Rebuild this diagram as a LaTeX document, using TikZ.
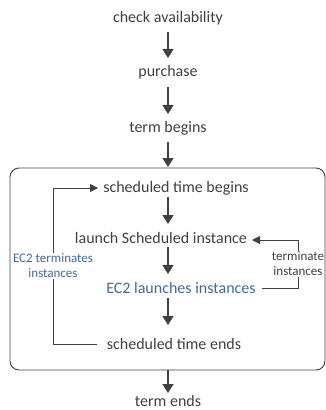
\documentclass[tikz,border=0pt]{standalone}
\usepackage{fontspec}
\setmainfont{Carlito}
\usetikzlibrary{arrows.meta}
\definecolor{txt}{HTML}{404040}
\definecolor{bluetxt}{HTML}{46689A}
\tikzset{
  lbl/.style={font=\fontsize{16}{18}\selectfont, text=txt, inner sep=1pt},
  bluelbl/.style={font=\fontsize{16}{18}\selectfont, text=bluetxt, inner sep=1pt},
  small/.style={font=\fontsize{13}{15}\selectfont, align=center, inner sep=1pt},
  mainarrow/.style={draw=txt, line width=1.3pt, -{Triangle[width=11pt,length=9pt]}},
  looparrow/.style={draw=txt, line width=0.9pt, -{Triangle[width=8pt,length=8pt]}},
  loopline/.style={draw=txt, line width=0.9pt},
}
\begin{document}
\begin{tikzpicture}[x=1pt,y=-1pt]
\useasboundingbox (0,0) rectangle (326,410);
\draw[draw=txt, line width=0.9pt, rounded corners=9pt] (10,168) rectangle (325,370);
\node[lbl] (ca) at (168,18) {check availability};
\node[lbl] (pu) at (168,72) {purchase};
\node[lbl] (tb) at (168,128) {term begins};
\node[lbl] (stb) at (176,188) {scheduled time begins};
\node[lbl] (lsi) at (161,238) {launch Scheduled instance};
\node[bluelbl] (eli) at (181,288) {EC2 launches instances};
\node[lbl] (ste) at (174,344) {scheduled time ends};
\node[lbl] (te) at (168,401) {term ends};
\node[small, text=bluetxt] (eti) at (53,266) {EC2 terminates\\instances};
\node[small, text=txt] (ti) at (298,264) {terminate\\instances};

\draw[mainarrow] (168,32) -- (168,58);
\draw[mainarrow] (168,87) -- (168,114);
\draw[mainarrow] (168,142) -- (168,167);
\draw[mainarrow] (168,197) -- (168,224);
\draw[mainarrow] (168,247) -- (168,274);
\draw[mainarrow] (168,298) -- (168,325);
\draw[mainarrow] (168,370) -- (168,393);

\draw[loopline] (97,344) -- (53,344) -- (eti.south);
\draw[looparrow] (eti.north) -- (53,188) -- (98,188);
\draw[loopline] (262,288) -- (298,288) -- (ti.south);
\draw[looparrow] (ti.north) -- (298,240) -- (252,240);
\end{tikzpicture}
\end{document}
